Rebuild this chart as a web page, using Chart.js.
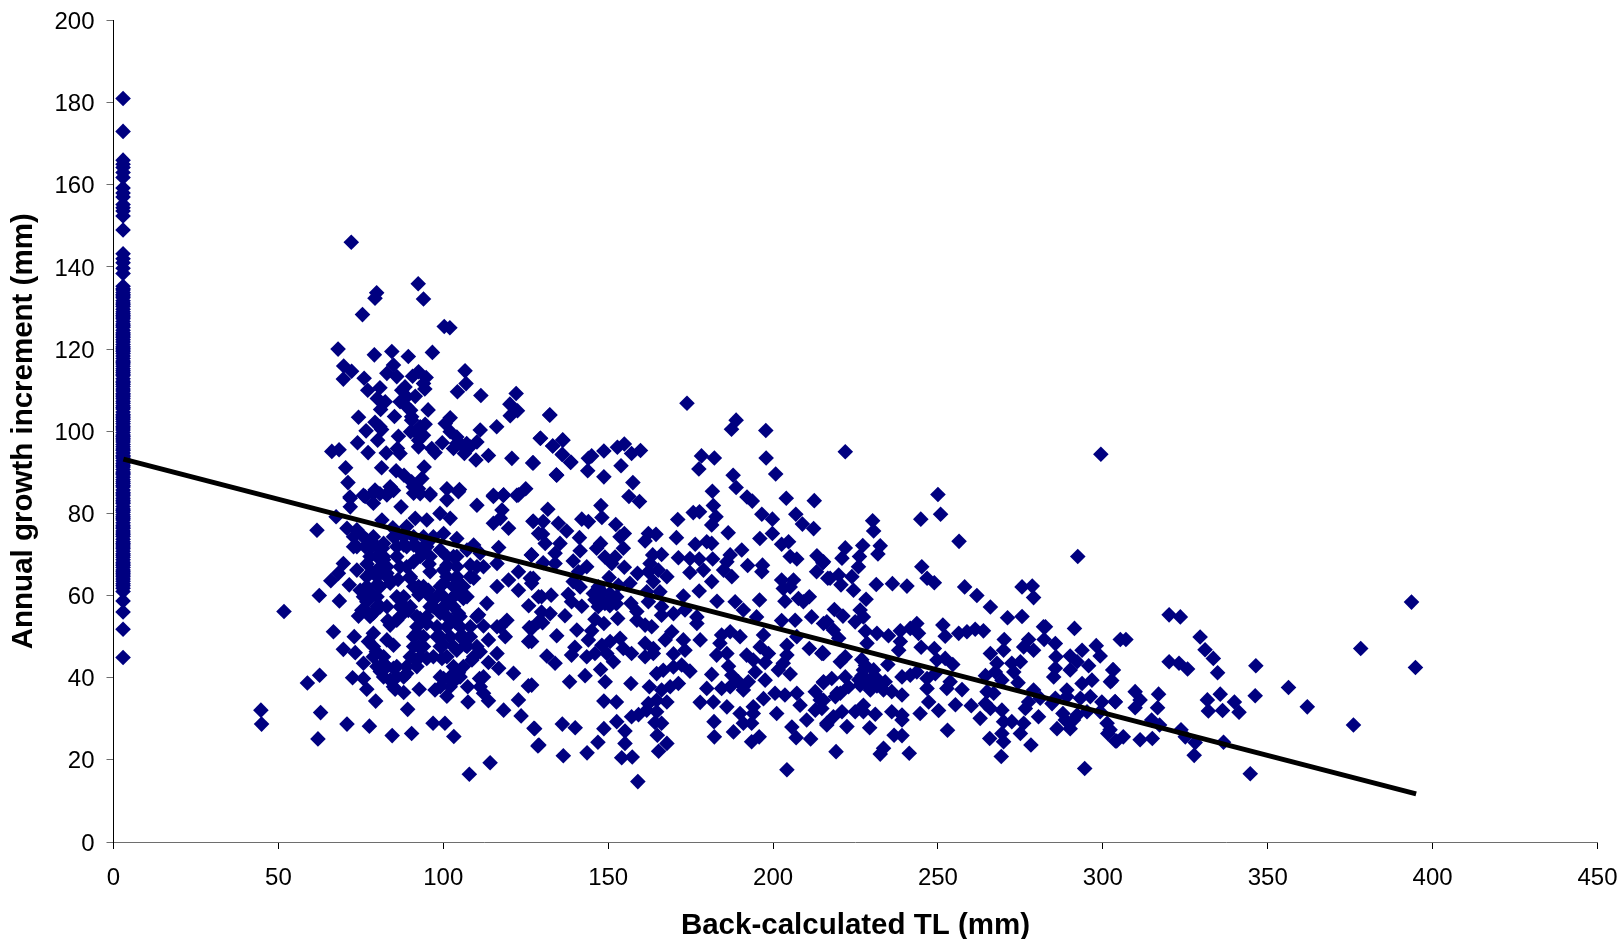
<!DOCTYPE html>
<html>
<head>
<meta charset="utf-8">
<title>Annual growth increment</title>
<script src="https://cdn.jsdelivr.net/npm/chart.js@4"></script>
<style>
  html, body { margin: 0; padding: 0; background: #fff; overflow: hidden; }
  canvas { display: block; }
</style>
</head>
<body>
<canvas id="myChart" width="1621" height="939"></canvas>
<script>
// values, [TL, increment]
const stripTL = 2.9;
const stripInc = [181,173,166,165,164.2,163,161.8,159.2,158,157,155.2,154.4,153.6,152.4,149,143.2,142,141,139.7,138.4,
  135.3,134.7,134.4,133.8,133.3,132.9,132.5,131.8,131.2,130.8,130.4,129.7,129.1,128.6,128.2,127.8,127.4,126.7,126.1,125.7,125.3,124.6,124,123.6,123.2,122.8,122.3,121.7,121.1,120.6,120.2,119.8,119.4,118.9,118.3,117.7,117.1,116.8,116.4,115.8,
  115.2,114.7,114.3,113.9,113.5,112.8,112.2,111.8,111.4,110.9,110.3,109.8,109.2,108.8,108.4,107.9,107.3,106.8,106.2,105.8,105.4,104.7,104.1,103.7,103.3,102.9,102.4,101.8,101.2,100.8,100.3,99.7,99.1,98.7,98.3,97.9,97.4,96.8,96.2,95.7,
  95.3,94.7,94.1,93.8,93.4,92.8,92.2,91.7,91.3,90.7,90.1,89.8,89.4,88.8,88.2,87.7,87.3,86.8,86.4,85.7,85.1,84.7,84.3,83.7,83.2,82.8,82.4,81.7,81.1,80.7,80.3,79.7,79.2,78.8,78.4,77.7,77.1,76.7,76.3,75.7,75.2,74.8,74.4,73.7,73.1,72.7,72.3,71.8,
  71.4,70.8,70.2,69.8,69.3,68.7,68.1,67.7,67.3,66.8,66.2,65.8,65.4,65,64.6,64,63.5,62.9,62.4,61.8,61,58.7,56,51.8,44.9];

const upperCluster = [[72.1,146],[92.4,135.9],[94,132.2],[79.8,133.7],[79.3,132.4],[75.5,128.4],[100.3,125.5],[102,125.2],[68.1,120],[79.1,118.6],
  [84.4,119.4],[89.4,118.2],[96.7,119.2],[69.8,115.9],[72.2,114.6],[69.7,112.7],[84.9,116.1],[82.9,114.1],[85.9,113.3],[76,112.9],
  [90.7,113.4],[92.5,114.5],[94.8,113.1],[94,111.6],[94.4,110.3],[106.6,114.7],[106.9,111.6],[104.3,109.6],[111.4,108.7],[122.1,109.2],
  [120.2,106.6],[122.5,105],[120.3,103.8],[132.3,103.9],[80.8,110.6],[77.1,110],[80,108],[82.4,107.2],[81,105.3],[87.4,110],
  [88.9,108.4],[91.5,108.5],[86.9,107.2],[90.1,105.1],[95.4,105.2],[74.3,103.4],[85.2,103.6],[79.3,102.2],[81.3,100.4],[76.6,100.1],
  [74,97.2],[80.1,97.8],[77.2,94.8],[90.4,102.7],[90.1,99.9],[94.5,101.7],[94,99],[102.1,103.3],[100.6,101.9],[102.1,99.9],
  [104.1,98.6],[111.2,100.3],[116.2,101.1],[110.2,97.4],[107.1,97],[99.7,97.2],[103.1,95.8],[106.4,94.6],[96.5,95.8],[97.5,94.8],
  [92.5,96.2],[86.4,98.8],[86.1,95.8],[86.9,94.6],[82.7,94.7],[66.2,95.1],[68.4,95.5],[113.7,94.1],[109.9,93],[120.8,93.4],
  [127.1,92.3],[129.5,98.3],[133.2,96.4],[136.3,97.8],[136.1,94.3],[138.7,92.5],[134.3,89.4],[70.4,91.1],[71.1,87.5],[81.3,91.1],
  [85.7,90.4],[88.1,89.3],[90.4,87.7],[94.2,91.3],[93.5,88.5],[92.5,86],[101.1,86],[104.9,85.8],[83.9,86.5],[79.3,85.7],
  [115.2,84.4],[118.2,84.4],[122.3,84.4],[125,86],[71.7,84],[75.8,84.4],[82.9,84.8],
  [88.9,106],[90.4,103.5],[88.4,110.8],[92,99.5],[93,101.1],[105.1,97],[108.1,96.2],[104.1,97],[92.5,97.8],[80.8,101.1],
  [90.9,86.5],[93,84.8],[96,84.8],[80.8,84.8],[84.9,85.6]];

const lowerLeftCluster = [[61.7,75.9],[67.5,79.2],[71.8,83.7],[71.8,81.6],[76.3,84.1],[78.8,82.5],[78.8,84.9],[82.9,84.5],[87.2,81.6],[81.4,78.4],
  [91.5,78.8],[91,84.9],[96,84.5],[95,78.4],[99,80],[102.1,78.8],[101.1,83.3],[104.6,85.3],[110.2,82],[115.2,84.1],
  [118.3,84.5],[122.8,84.5],[117.8,80.8],[115.2,77.6],[119.8,76.4],[117.3,78.8],[127.2,78.1],[70.8,76.4],[73.8,76],[72.8,71.9],
  [76.8,73.5],[78.3,71.9],[81.9,72.7],[85.9,74.7],[88.9,76.8],[100.1,75.1],[104.1,73.9],[109.2,72.3],[116.8,71.7],[126.7,69.9],
  [128.9,75.1],[88,72.3],[91,72.3],[95,72.7],[93.5,69.9],[99.1,71.1],[103.1,69.5],[107.2,71.1],[111.2,70.3],[116.3,67.8],
  [108.2,67.4],[112.2,67],[101.1,67.4],[69.7,67.8],[73.8,66.2],[68.2,65.4],[65.9,63.6],[71.5,62.6],[77.8,69.5],[81.9,68.7],
  [86.9,67],[91,68.2],[78.3,65.8],[82.9,65.4],[90,64.2],[96,65.8],[100.1,66.2],[74.8,61.3],[79.9,62.6],[83.9,63],
  [92.5,62.2],[95.5,61.3],[100.1,63],[104.1,63.8],[109.2,64.2],[104.1,60.5],[98.1,59.7],[106.1,59.3],[116.3,62.2],[119.8,63.8],
  [122.8,65.8],[126.4,64.2],[122.8,61.3],[128.9,59.7],[62.4,60],[68.5,58.7],[51.7,56.1],[76.8,58.5],[80.9,57.3],[86.9,58.9],
  [88.9,56.9],[76.3,56.5],[78.8,55.7],[74.3,55],[85.9,54],[83.9,52.8],[97,57.3],[101.6,58.1],[99.1,55.7],[104.6,55.7],
  [103.6,53.6],[93,54.4],[95,53.2],[113.2,58.1],[110.7,55.3],[112.2,52.6],[125.9,57.5],[119.3,54],[117.3,52.4],[126.1,52.2],
  [118.8,50],[125.9,48.8],[128.9,53.6],[66.7,51.2],[73,50],[78.8,50.8],[77.3,48.8],[69.7,46.9],[73.3,46.1],[79.7,46.3],
  [84.9,47.9],[82.9,49.2],[92,50.8],[92.5,47.6],[91.5,44.3],[99.1,50],[100.1,48],[105.1,50],[104.1,46.7],[106.7,47.9],
  [113.7,49.2],[111.2,46.3],[108.7,44.3],[116.3,45.9],[113.7,43.7],[116.8,42.3],[75.8,43.5],[99.6,44.7],[95,44.7],[81.9,43.5],
  [80.9,41.5],[84.9,42.3],[88.9,41],[83.9,39.4],[72.5,40],[75.8,39.8],[76.8,37.2],[62.5,40.6],[58.8,38.7],[85.4,37.2],
  [88,36.4],[92.7,37.2],[97.5,37],[101.1,35.5],[100.1,39.8],[104.6,41.2],[103.1,39],[111,39.8],[107.4,37.8],[112.2,36.2],
  [113.7,34.4],[107.5,34.1],[121.3,41.1],[125.8,38],[122.8,34.6],[118.3,32.1],[123.6,30.7],[127.5,27.7],[128.7,23.4],[79.5,34.3],
  [89.2,32.3],[44.7,32.1],[44.9,28.7],[62.8,31.5],[70.8,28.7],[77.6,28.2],[84.5,25.9],[90.4,26.4],[96.9,28.9],[100.5,28.9],
  [103.2,25.7],[62,25.1],[114.2,19.3],[107.9,16.5]];

// the solid part of the cloud, where single marks can only be estimated
const denseCore = [[72.8,74.3],[75.8,74.3],[78.8,74.3],[84.9,74.3],[88,74.3],[91,74.3],[94,74.3],[97,74.3],
  [73.8,71.9],[76.3,71.9],[79.9,71.9],[85.9,71.9],[88.9,71.9],[92,71.9],[95,71.9],
  [79.9,69.5],[81.9,69.5],[85.9,69.5],[93,69.5],[96,69.5],[101.1,69.5],[104.1,69.5],
  [80.9,67],[82.9,67],[88.9,67],[104.1,67],[110.2,67],
  [76.8,64.6],[79.9,64.6],[82.9,64.6],[90,64.6],[101.1,64.6],[104.1,64.6],[108.2,64.6],
  [76.8,62.2],[80.9,62.2],[91,62.2],[94,62.2],[99.1,62.2],[103.1,62.2],[106.1,62.2],
  [75.8,59.7],[79.9,59.7],[85.9,59.7],[88,59.7],[96,59.7],[100.1,59.7],[103.1,59.7],[107.2,59.7],
  [79.9,57.3],[82.9,57.3],[86.9,57.3],[90,57.3],[96,57.3],[100.1,57.3],[103.1,57.3],
  [77.8,54.9],[86.9,54.9],[92,54.9],[95,54.9],[101.1,54.9],[105.1,54.9],[110.2,54.9],
  [92,52.4],[98.1,52.4],[101.1,52.4],[105.1,52.4],[108.2,52.4],[116.3,52.4],
  [91,50],[94,50],[98.1,50],[102.1,50],[106.1,50],[108.2,50],
  [78.8,47.6],[91,47.6],[94,47.6],[99.1,47.6],[103.1,47.6],[107.2,47.6],[110.2,47.6],
  [78.8,45.1],[81.9,45.1],[90,45.1],[93,45.1],[97,45.1],[101.1,45.1],[109.2,45.1],
  [79.9,42.7],[82.9,42.7],[85.9,42.7],[88.9,42.7],[92,42.7],[103.1,42.7],[106.1,42.7],
  [81.9,40.2],[85.9,40.2],[88,40.2],[99.1,40.2],[102.1,40.2],[105.1,40.2],[112.2,40.2],
  [84.9,37.8],[99.1,37.8],[102.1,37.8],[111.2,37.8],
  [76.9,67.7],[81.6,71.5],[86.3,63.9],[78.5,60.2],[89.4,56.4],[83.2,53.9],[75.3,56.4],[92.6,60.2],[84.7,76.5],[95.7,67.7]];

const middleCluster = [[173.9,106.8],[132.3,104],[188.8,102.7],[187.4,100.5],[197.8,100.2],[129.4,98.3],[133.2,96.4],[136.2,97.9],[136.1,94.4],[138.6,92.4],
  [127.3,92.3],[134.4,89.3],[144,93.4],[145,94],[143.8,90.4],[148.7,95.2],[152.8,96.1],[154.9,96.9],[157.1,94.6],[159.8,95.3],
  [153.9,91.6],[148.7,88.9],[157.5,87.5],[156.3,84.1],[159.5,82.9],[178.3,94],[182.2,93.5],[177.5,90.8],[197.9,93.5],[200.8,89.6],
  [187.9,89.3],[188.8,86.3],[181.6,85.4],[192.1,84],[193.7,83],[204,83.7],[212.5,83.1],[131.7,81],[147.8,81.9],[148.1,79],
  [142,78.6],[144,78],[127.3,78.1],[130.3,78],[134.9,77.6],[137.4,75.7],[130.1,75],[130.9,72.7],[135.4,72.7],[141.3,74.1],
  [141.5,70.9],[133.9,70.3],[152.3,77.3],[154.9,75.1],[153.6,74.3],[147.7,72.7],[146.5,71.5],[154.6,71.5],[162.2,75.1],[164.5,74.9],
  [161.2,73.3],[171.1,78.5],[170.7,74.1],[176.4,72.5],[177.7,80.4],[175.8,80.2],[181.9,81.9],[182.7,79.2],[181.4,77.2],[186.4,75.3],
  [179.9,73.1],[181.4,72.7],[196,73.9],[199.8,75.1],[196.6,79.8],[199.8,78.6],[206.9,79.8],[208.9,77.4],[212.3,76.3],[202.6,72.5],
  [204.7,73.1],[190.5,71.1],[187,69.9],[139.4,68.4],[143.5,67],[141,65.8],[133.9,67.8],[130.3,68],[126.8,69.9],[149,69.4],
  [152.1,69.4],[151.1,67.8],[154.9,66.9],[163.5,69.9],[166.2,70],[162.7,67.8],[171.3,69.2],[174.8,69],[177.6,68.9],[181.7,68.9],
  [186,68.2],[185,66.2],[187.5,64.6],[174.8,65.6],[178.9,66.2],[181.4,63.4],[192.3,67.3],[196.8,67.4],[196.6,65.8],[205.2,69.5],
  [207.2,68.9],[213.3,69.7],[215.1,68],[213.2,65.8],[216.6,64.2],[127.3,64.2],[126.8,63],[141.5,62.1],[139.4,63.4],[150.3,64.4],
  [147,62.1],[153.1,62.5],[156.6,63],[158.9,65.4],[162.2,65.8],[165.2,66.2],[167.8,64.6],[163.7,63.4],[165.7,60.9],[161.7,60.9],
  [172.8,59.9],[177.6,61.1],[183,58.6],[188.5,58.5],[191,56.5],[195.9,58.9],[195,54.8],[206.2,63.8],[202.6,63.8],[203.1,61.7],
  [205.2,62.1],[203.6,58.6],[207.7,59.3],[211,59.7],[209.2,58.5],[137.9,60.3],[129.8,59.7],[132.7,60.1],[138.9,58.5],[142,57.4],
  [147,59.7],[149,58.1],[152.6,59.7],[150.6,58.9],[147,57.3],[156.9,58.1],[162.2,58.5],[166.2,57.3],[169.8,55.6],[173.3,56.5],
  [176.9,54.8],[176.9,53.2],[166.2,55.2],[158.7,56.1],[158.7,54],[161.2,52.8],[163.2,52.4],[152.9,54.4],[146,54.2],[148.7,53.2],
  [136.9,55.1],[132.4,55.6],[129.8,56],[130.1,53.4],[126.8,52],[140.5,51.6],[145,51.4],[144,49.2],[134.4,50.2],[126.8,48.8],
  [177.9,49.2],[202.6,53.9],[206.7,54],[211.7,54.8],[215.3,53.2],[207.2,50],[204.2,47.9],[211,47.1],[215,46.1],[169.3,51.2],
  [167.3,49.2],[172.8,49.2],[173.3,46.7],[169.8,45.8],[184.4,50.4],[187,51.2],[190,50],[183.9,48.4],[186,45.9],[182.9,45.5],
  [197.1,50.4],[196.1,47.5],[198.6,45.9],[192,45.5],[194,44.3],[197.6,43.7],[204.2,45.5],[203.1,43.5],[201.6,41.9],[205.2,40.9],
  [186.5,42.8],[181.4,40.8],[187.5,40.6],[194.6,41.4],[197.6,39.4],[215.3,39],[189.5,39],[192.5,39],[191,37],[187,37.8],
  [179.9,37.4],[184.4,37.4],[153.6,49.6],[150.6,48.8],[148.1,47.9],[161.2,48.4],[163.7,47.1],[139.9,47.4],[138.9,45.5],[131.4,45.3],
  [133.9,43.5],[143.5,45.1],[146,45.9],[149.6,45.9],[151.6,43.9],[154.6,47.1],[157.1,45.9],[161.2,45.1],[163.7,45.9],[147.7,42],
  [143,40.5],[138.3,39],[149.1,39],[156.9,38.6],[164.7,41],[166.7,41.8],[169.8,42.6],[172.3,43.1],[174.8,41.6],[171.3,38.6],
  [168.8,37.8],[166.2,37],[162.5,37.8],[126.8,38.2],[164.7,34.5],[167.8,34.1],[162.2,33.7],[161.7,32.1],[164.7,31.7],[148.7,34.3],
  [152.5,34.1],[177.9,34],[181.9,34.1],[186,32.9],[190,31.3],[194,32.9],[197.1,34.9],[194,31.3],[200.6,36.2],[203.6,35.8],
  [207.2,36.2],[212.8,36.6],[214.3,34.6],[208.2,33.3],[201.1,31.3],[210.2,29.7],[212.8,32.1],[216.3,28.9],[157.1,30.5],[159.2,31],
  [152.6,29.3],[155.1,27],[148.7,27.6],[164.2,29.1],[166.2,28.9],[164.9,26],[167.8,24],[165.3,22.1],[182.1,29.3],[182.2,25.6],
  [188,26.8],[191,28.9],[193.5,28.9],[193.5,24.4],[195.8,25.6],[205.7,28],[207,25.4],[211.4,25.1],[127.7,27.6],[136.1,28.7],
  [140,27.8],[129,23.6],[146.9,24.3],[136.4,21],[143.6,21.7],[155.1,24],[154.1,20.5],[157.3,20.7],[159,14.7],[204.2,17.6],
  [145.5,60.5],[148,61],[150.5,60.5],[148,58.5],[150.5,57.5],[152.5,58],[146,59]];

const rightCluster = [[221.9,95],[299.4,94.4],[250,84.6],[250.8,79.8],[244.8,78.6],[256.4,73.2],[292.4,69.5],[230.2,78.2],[230.5,75.7],[221.9,71.6],
  [220.9,69.1],[227.2,72.2],[226.2,69.5],[232.5,72.1],[231.8,70.1],[215.3,68.2],[225.9,67],[219.9,65],[217.3,64.2],[220.6,62.6],
  [223.9,64.6],[224.4,61.3],[231.3,62.7],[236.2,62.9],[240.6,62.3],[228.2,59.1],[245.1,67],[246.7,64.2],[248.9,63.1],[258.1,62.1],
  [261.8,60],[265.9,57.2],[275.5,62.1],[278.6,62.3],[279,59.5],[271.1,54.6],[275.5,54.9],[282.6,52.4],[291.4,52],[305.3,49.3],
  [218.6,56.6],[221.2,55],[216.3,53.6],[226.4,56.5],[227.4,54.8],[224.9,53.6],[228,51.3],[218.3,51.6],[219.9,49.6],[214.8,45.9],
  [231.5,50.8],[228.5,48.4],[235,50.2],[238.6,51.4],[241.6,52],[243.6,53.2],[244.1,50.8],[238.6,48.8],[238.1,46.7],[244.9,47.4],
  [248.9,47.1],[251.5,52.8],[252.2,50.1],[256.3,50.8],[258.8,51.2],[261.3,51.8],[263.8,51.4],[270.1,49.3],[269.9,46.7],[277.5,49.3],
  [276,47.5],[279,46.7],[282,52.4],[282.2,49.3],[285.6,48.3],[285.8,45.1],[298,47.8],[299.2,45.3],[293.7,46.7],[290.1,45.3],
  [292.2,43.9],[290.1,41.9],[295.7,42.9],[303,41.9],[302.3,39],[296.7,39.4],[293.7,38.6],[285.6,42.3],[285.1,40.2],[275,43.9],
  [272.4,43.5],[265.9,45.9],[267.9,43.5],[267.4,41.4],[264.4,40.5],[273,41.4],[269.4,39.4],[274.3,38.8],[226.9,44.4],[215.3,45.9],
  [221.9,45.1],[220.4,43.9],[234.8,43.2],[249.7,44.3],[252.2,44.7],[254.5,43.2],[227.4,41.9],[230.5,41.9],[228.5,39.4],[231.5,39.8],
  [234,39],[217.8,39.8],[215.3,38.8],[221.9,40.2],[226.4,38.2],[229.5,37],[222.9,37.8],[239.1,40.2],[241.6,40.6],[243.6,41.4],
  [246.7,39.8],[249.2,41],[253.7,39],[252.7,37.4],[257.3,37.1],[246.7,37.4],[236,36.6],[239.1,35.8],[233.5,37],[220.4,36.2],
  [218.9,35.4],[214.8,34.5],[247.2,34.1],[255.3,33.4],[260.1,33.2],[250.2,32],[244.6,31.3],[262.8,30.1],[264.9,36.6],[266.9,36.2],
  [264.4,33.7],[265.9,32.5],[269.4,32.1],[269.9,29.3],[272.4,29.3],[276,28.9],[275,26.4],[269.4,26.4],[265.7,25.2],[269.9,24.4],
  [278.2,23.6],[269.2,20.8],[279,37],[277.5,34.1],[281,35],[276.5,32.5],[280.5,30.5],[284.6,33.7],[289.1,37],[289.1,35.4],
  [285.6,35],[293.2,35],[296.2,35.4],[299.7,34.1],[303.8,34.1],[299.2,31.7],[295.2,31.7],[292.2,30.9],[287.9,31.3],[286.1,27.6],
  [290.1,27.6],[291.1,29.7],[288.6,29.7],[301.3,28.9],[301.5,26.4],[303.8,24.6],[294.5,17.9],[214.8,32.5],[216.3,28.5],[218.3,30.5],
  [220.9,31.7],[224.9,31.7],[227.4,31.7],[227.4,33.3],[231,31.1],[236,31.7],[239.1,30.9],[239.1,29.7],[222.4,28.1],[229.3,27.8],
  [236.7,26],[239.1,25.9],[252.9,27.2],[219.1,22],[233.5,22.8],[232.5,21.4],[241.3,21.6],[215.3,34.5],[219.4,36.2],
  [227,40.5],[229,38],[230,40],[228,43],[226,39.5],[231.5,38]];

const tailCluster = [[393.6,58.4],[394.8,42.5],[378.2,47.1],[376,28.5],[362,32.9],[356.3,37.6],[346.4,42.9],[346.2,35.6],[344.7,16.6],[320.1,55.3],
  [323.5,54.8],[329.5,49.9],[331,46.8],[333.5,44.7],[334.8,41.2],[307,49.3],[320.1,43.9],[323.1,43.5],[325.7,42.1],[303.2,41.9],
  [302.7,39.3],[335.6,36],[331.7,34.6],[332,31.9],[336.3,32],[339.9,34.1],[341.3,31.6],[309.8,36.6],[311.3,34.6],[309.8,32.7],
  [316.9,36],[316.6,32.7],[303.7,34.2],[314.8,29.7],[317.2,28.5],[323.7,27.3],[325,25.6],[328,24.2],[327.7,21.1],[336.6,24.3],
  [311.3,24.9],[315,25.2],[306.2,25.6],[304.2,24.6],[302.2,27.3]];

const trendTL = [3, 395];
const trendInc = [93.2, 11.7];

const xTicks = [0, 50, 100, 150, 200, 250, 300, 350, 400, 450];
const yTicks = [0, 20, 40, 60, 80, 100, 120, 140, 160, 180, 200];

var stripPoints = stripInc.map(v => ({ x: stripTL, y: v }));
var clusterPoints = [].concat(upperCluster, lowerLeftCluster, denseCore, middleCluster, rightCluster, tailCluster)
    .map(p => ({ x: p[0], y: p[1] }));

Chart.defaults.font.family = '"Liberation Sans", Arial, sans-serif';
Chart.defaults.color = '#000';

var ctx = document.getElementById('myChart').getContext('2d');
var chart = new Chart(ctx, {
    type: 'scatter',
    data: {
        datasets: [{
            label: 'Trend',
            type: 'line',
            order: 0,
            data: trendTL.map((x, i) => ({ x: x, y: trendInc[i] })),
            borderColor: '#000',
            borderWidth: 5,
            pointRadius: 0,
            fill: false
        }, {
            label: 'Increment',
            order: 1,
            data: stripPoints.concat(clusterPoints),
            pointStyle: 'rectRot',
            pointRadius: 7.8,
            backgroundColor: '#000080',
            borderWidth: 0
        }]
    },
    options: {
        responsive: false,
        animation: false,
        layout: { padding: { top: 20.5, right: 23.5, left: 0, bottom: 0 } },
        plugins: { legend: { display: false }, tooltip: { enabled: false }, title: { display: false } },
        scales: {
            x: {
                type: 'linear',
                min: 0,
                max: 450,
                afterFit: function(scale) {
                    scale.height = 97;
                    scale.paddingLeft = 0;
                    scale.paddingRight = 0;
                },
                afterBuildTicks: function(scale) { scale.ticks = xTicks.map(v => ({ value: v })); },
                border: { color: '#6e6e6e', width: 1 },
                grid: { drawOnChartArea: false, tickColor: '#000', tickLength: 7, tickWidth: 1 },
                ticks: { font: { size: 24 }, padding: 15, maxRotation: 0, autoSkip: false },
                title: {
                    display: true,
                    text: 'Back-calculated TL (mm)',
                    font: { size: 29.5, weight: 'bold' },
                    padding: { top: 0, bottom: -4.5 }
                }
            },
            y: {
                type: 'linear',
                min: 0,
                max: 200,
                afterFit: function(scale) {
                    scale.width = 113.5;
                    scale.paddingTop = 0;
                    scale.paddingBottom = 0;
                },
                afterBuildTicks: function(scale) { scale.ticks = yTicks.map(v => ({ value: v })); },
                border: { color: '#000', width: 1 },
                grid: { drawOnChartArea: false, tickColor: '#6e6e6e', tickLength: 7, tickWidth: 1 },
                ticks: { font: { size: 24 }, padding: 12, labelOffset: 2, autoSkip: false },
                title: {
                    display: true,
                    text: 'Annual growth increment (mm)',
                    font: { size: 29.5, weight: 'bold' },
                    padding: { top: 6.5, bottom: 0 }
                }
            }
        }
    }
});
</script>
</body>
</html>
